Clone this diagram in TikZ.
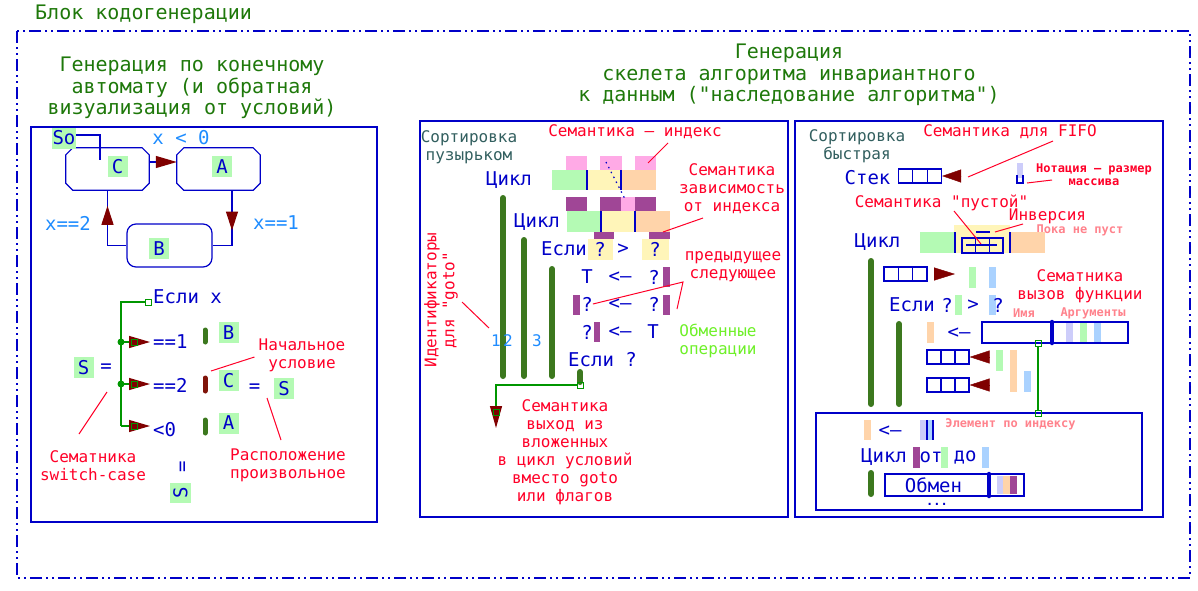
\documentclass[tikz,border=0pt]{standalone}
\usepackage{fontspec}
\setmonofont{DejaVu Sans Mono}
\renewcommand{\familydefault}{\ttdefault}
\usepackage{tikz}
\usetikzlibrary{calc, positioning, arrows.meta, decorations.markings}
\definecolor{lineblue}{RGB}{0,0,200}
\definecolor{titlegreen}{RGB}{30,120,10}
\definecolor{notered}{RGB}{255,0,40}
\definecolor{condblue}{RGB}{30,140,255}
\definecolor{arrred}{RGB}{128,0,0}
\definecolor{wiregreen}{RGB}{0,150,0}
\definecolor{bargreen}{RGB}{60,120,30}
\definecolor{barred}{RGB}{128,20,10}
\definecolor{lgreen}{RGB}{180,250,180}
\definecolor{lyellow}{RGB}{255,245,185}
\definecolor{lorange}{RGB}{255,212,170}
\definecolor{lpink}{RGB}{255,170,230}
\definecolor{purp}{RGB}{160,70,150}
\definecolor{lavend}{RGB}{205,205,250}
\definecolor{lblue}{RGB}{170,210,255}
\definecolor{salmon}{RGB}{255,130,140}
\definecolor{slate}{RGB}{50,95,95}
\definecolor{swapgreen}{RGB}{110,240,40}
\newcommand{\chamf}[1]{\draw[link] ([xshift=7pt]#1.north west) -- ([xshift=-7pt]#1.north east) -- ([yshift=-7pt]#1.north east) -- ([yshift=7pt]#1.south east) -- ([xshift=-7pt]#1.south east) -- ([xshift=7pt]#1.south west) -- ([yshift=7pt]#1.south west) -- ([yshift=-7pt]#1.north west) -- cycle;}
\tikzset{
    blockframe/.style = {draw=lineblue, line width=1.4pt, dash pattern=on 12pt off 4pt on 2pt off 4pt on 2pt off 4pt},
    panel/.style = {draw=lineblue, line width=1.2pt},
    ttl/.style = {text=titlegreen, font=\fontsize{20}{21.5}\selectfont, inner sep=0, align=center},
    txt/.style = {text=lineblue, font=\fontsize{19}{21}\selectfont, inner sep=0},
    cond/.style = {text=condblue, font=\fontsize{19}{21}\selectfont, inner sep=0},
    note/.style = {text=notered, font=\fontsize{16}{18}\selectfont, inner sep=0, align=center},
    tiny/.style = {text=salmon, font=\bfseries\fontsize{12}{13}\selectfont, inner sep=0, align=center},
    sub/.style = {text=slate, font=\fontsize{16}{18}\selectfont, inner sep=0, align=center},
    sym/.style = {fill=lgreen, text=lineblue, font=\fontsize{19}{21}\selectfont, inner sep=0, minimum width=20pt, minimum height=21pt}, % letter of a state on green
    state/.style = {rectangle, minimum width=83pt, minimum height=42pt, inner sep=0}, % outline drawn by \chamf
    stateb/.style = {rectangle, rounded corners=9pt, draw=lineblue, line width=1.2pt, minimum width=85pt, minimum height=43pt, inner sep=0},
    link/.style = {draw=lineblue, line width=1.2pt},
    wire/.style = {draw=wiregreen, line width=1.2pt},
    gpin/.style = {draw=wiregreen, line width=0.8pt, minimum size=6pt, inner sep=0},
    gbar/.style = {line width=6pt, line cap=round, draw=#1}, gbar/.default=bargreen,
    ptr/.style = {draw=notered, line width=1pt},
    divline/.style = {draw=lineblue, line width=1.4pt},
    stk/.style = {draw=lineblue, line width=1.2pt, minimum width=43pt, minimum height=14pt, inner sep=0,
        path picture={\foreach \f in {1,2} \draw[lineblue, line width=1.2pt] ($(path picture bounding box.south west)!\f/3!(path picture bounding box.south east)$) -- ($(path picture bounding box.north west)!\f/3!(path picture bounding box.north east)$);}}, % stack of three cells
    tipR/.style = {-{Triangle[length=21pt, width=12pt, color=arrred]}},
    midarr/.style = {postaction={decorate, decoration={markings, mark=at position #1 with {\arrow{Triangle[length=19pt, width=12pt, color=arrred]}}}}}
}

\begin{document}
\begin{tikzpicture}[x=1pt, y=-1pt]
\useasboundingbox (0,0) rectangle (1198,590);
% whole block
\draw[blockframe] (17,31) rectangle (1190,578);
\node[ttl, anchor=west] (blkT) at (35,14) {Блок кодогенерации};
\draw[panel] (31,127) rectangle (377,522);
\draw[panel] (420,121) rectangle (788,517);
\draw[panel] (795,121) rectangle (1163,517);
\node[ttl] (fsmT) at (192,88) {Генерация по конечному\\автомату (и обратная\\визуализация от условий)};
\node[ttl] (algT) at (789,75) {Генерация\\скелета алгоритма инвариантного\\к данным ("наследование алгоритма")};

% finite state machine
\node[state] (C) at (107.5,169) {};
\node[state] (A) at (218.5,169) {};
\chamf{C}
\chamf{A}
\node[stateb] (B) at (169.5,245.5) {};
\node[sym] (Cl) at (117.5,166.5) {C};
\node[sym] (Al) at (222,166.5) {A};
\node[sym] (Bl) at (159,248.5) {B};
\node[sym, minimum width=24pt] (S0) at (64,138) {So};
\draw[link] ([yshift=3pt]S0.east) -| ([xshift=-7.5pt, yshift=-12pt]C.north);
\draw[link, tipR] ([yshift=7pt]C.east) -- ([yshift=7pt]A.west);
\draw[link, midarr=0.54] ([xshift=13.5pt]A.south) |- (B.east);
\draw[link, midarr=0.79] (B.west) -| (C.south);
\node[cond] (cLt) at (181,138) {x < 0};
\node[cond] (cTwo) at (68,223) {x==2};
\node[cond] (cOne) at (276,223) {x==1};

% switch-case view
\node[txt, anchor=west] (ifx) at (153,297) {Если x};
\node[gpin] (p0) at (148,302) {};
\coordinate (sw) at (121,426);
\draw[wire] (p0.west) -| (sw);
\fill[wiregreen] (121,342) circle (3.5pt) (121,384) circle (3.5pt);
\draw[wire, tipR] (121,342) -- (150,342);
\draw[wire, tipR] (121,384) -- (150,384);
\draw[wire, tipR] (sw) -- (150,426);
\node[gpin] at (134.5,342) {};
\node[gpin] at (134.5,384) {};
\node[gpin] at (134.5,426) {};
\node[txt, anchor=west] (eq1) at (153,342) {==1};
\node[txt, anchor=west] (eq2) at (153,385) {==2};
\node[txt, anchor=west] (lt0) at (153,430) {<0};
\draw[gbar, line width=5pt] (205,330) -- (205,342);
\draw[gbar=barred, line width=5pt] (205,378) -- (205,391);
\draw[gbar, line width=5pt] (205,420) -- (205,433);
\node[sym] (Bs) at (228.5,332.5) {B};
\node[sym] (Cs) at (228.5,380.5) {C};
\node[sym] (As) at (228.5,423) {A};
\node[sym] (Sl) at (83.5,367.5) {S};
\node[txt] at (106,368) {=};
\node[txt] at (254.5,388) {=};
\node[sym] (Sr) at (284,388.5) {S};
\node[txt, rotate=90] at (184,467) {=};
\node[sym, rotate=90] (Sb) at (180.5,492.5) {S};
\node[note] (nStart) at (302,355) {Начальное\\условие};
\draw[ptr] (211,371) -- ([xshift=-4pt, yshift=-2pt]nStart.west);
\node[note] (nSwitch) at (93,465.5) {Сематника\\switch-case};
\draw[ptr] (79,434) -- (107,392);
\node[note] (nPlace) at (288,465.5) {Расположение\\произвольное};
\draw[ptr] (267,398) -- (281,440);

% bubble sort
\node[sub] (bubT) at (469,147) {Сортировка\\пузырьком};
\node[note] (nIdx) at (635,132) {Семантика — индекс};
\foreach \a/\b in {566/587, 600/622, 635/656} \fill[lpink] (\a,156) rectangle (\b,170);
\fill[lgreen] (552,170) rectangle (587,190);
\fill[lyellow] (587,170) rectangle (621,190);
\fill[lorange] (621,170) rectangle (656,190);
\draw[divline] (587,170) -- (587,190) (621,170) -- (621,190);
\node[txt] (loop1) at (509,180) {Цикл};
\fill[purp] (566,197) rectangle (587,211);
\fill[purp] (600,197) rectangle (621,211);
\fill[lpink] (621,197) rectangle (635,211);
\fill[purp] (635,197) rectangle (656,211);
\fill[lgreen] (567,211) rectangle (601,232);
\fill[lyellow] (601,211) rectangle (635,232);
\fill[lorange] (635,211) rectangle (670,232);
\draw[divline] (601,211) -- (601,232) (635,211) -- (635,232);
\draw[lineblue, line width=1.2pt, dash pattern=on 1.5pt off 4pt] (606,162) -- (626,201);
\node[txt] (loop2) at (537,222) {Цикл};
\fill[purp] (594,232) rectangle (614,239);
\fill[purp] (649,232) rectangle (670,239);
\fill[lyellow] (588,239) rectangle (613,260);
\fill[lyellow] (642,239) rectangle (669,260);
\node[txt] (if1) at (564,249) {Если};
\node[txt] at (600,249) {?};
\node[txt] at (623,249) {>};
\node[txt] at (655,249) {?};
\draw[gbar] (503,198) -- (503,376);
\draw[gbar] (524,240) -- (524,376);
\draw[gbar] (552,269) -- (552,376);
\node[txt] at (587,277) {T};
\node[txt] at (620,277) {<—};
\node[txt] at (654,277) {?};
\fill[purp] (663,267) rectangle (670,287);
\fill[purp] (573,295) rectangle (580,315);
\node[txt] (qPrev) at (587,304) {?};
\node[txt] at (620,304) {<—};
\node[txt] at (654,304) {?};
\fill[purp] (663,295) rectangle (670,315);
\node[txt] at (587,332) {?};
\fill[purp] (594,322) rectangle (600,342);
\node[txt] at (620,332) {<—};
\node[txt] at (653,332) {T};
\node[txt] (if2) at (602.5,360) {Если ?};
\draw[gbar] (580,372) -- (580,382);
\node[gpin] (p1) at (580,385) {};
\draw[wire, -{Triangle[length=22pt, width=12pt, color=arrred]}] (p1.west) -| (496,428);
\node[gpin] (p2) at (496,412) {};
\node[cond, font=\fontsize{16}{18}\selectfont] at (496,341) {1};
\node[cond, font=\fontsize{16}{18}\selectfont] at (508,341) {2};
\node[cond, font=\fontsize{16}{18}\selectfont] at (537,341) {3};
\node[note, rotate=90] (nGoto) at (441,300) {Идентификаторы\\для "goto"};
\draw[ptr] (462,302) -- (489,328);
\node[note] (nDep) at (732,189) {Семантика\\зависимость\\от индекса};
\draw[ptr] (663,232) -- (703,218);
\draw[ptr] (648,163) -- (668,143);
\node[note] (nPN) at (733,267) {предыдущее\\следующее};
\draw[ptr] (qPrev.east) -- (683,282) -- (677,309);
\node[note, text=swapgreen] (nSwap) at (718,340.5) {Обменные\\операции};
\node[note] (nExit) at (565,452) {Семантика\\выход из\\вложенных\\в цикл условий\\вместо goto\\или флагов};

% quick sort
\node[sub] (qsT) at (857,146.5) {Сортировка\\быстрая};
\node[note] (nFifo) at (1010,132) {Семантика для FIFO};
\draw[ptr] (968,177) -- (1053,141);
\node[txt] (stackL) at (867.5,178) {Стек};
\node[stk] (stk1) at (920,176) {};
\draw[arrred, -{Triangle[length=19pt, width=13pt]}] (961,176) -- (stk1.east);
\fill[lavend] (1017,163) rectangle (1023,178);
\draw[lineblue, line width=1.2pt] (1017,175) -- (1017,183) -- (1023,183) -- (1023,175);
\draw[ptr] (1027,183) -- (1052,180);
\node[tiny, text=notered] (nNot) at (1094,174.5) {Нотация — размер\\массива};
\node[note] (nEmpty) at (941.5,203) {Семантика "пустой"};
\node[note] (nInv) at (1047.5,216) {Инверсия};
\node[tiny] (nWhile) at (1080,230) {Пока не пуст};
\node[txt] (loop3) at (877.5,242) {Цикл};
\fill[lgreen] (920,232) rectangle (954,253);
\fill[lyellow] (954,225) rectangle (1010,253);
\fill[lorange] (1010,232) rectangle (1045,253);
\draw[divline] (955,232) -- (955,253) (1010,232) -- (1010,253);
\node[stk, minimum width=41pt, minimum height=15pt] (stk2) at (982.5,245.5) {};
\draw[lineblue, line width=1.2pt] (966,245) -- (997,245);
\draw[lineblue, line width=1.2pt] (976,232) -- (990,232);
\draw[ptr] (954,211) -- (981,244);
\draw[ptr] (995,232) -- (1023,224);
\draw[gbar] (871,261) -- (871,404);
\draw[gbar] (899,324) -- (899,404);
\node[stk] (stk3) at (905.5,274) {};
\draw[arrred, -{Triangle[length=21pt, width=13pt]}] (934,274) -- (955,274);
\fill[lgreen] (969,267) rectangle (976,288);
\fill[lblue] (989,267) rectangle (996,288);
\node[note] (nCall) at (1080,286) {Сематника\\вызов функции};
\node[txt] (if3) at (912,305) {Если};
\node[txt] at (947,305) {?};
\fill[lgreen] (955,295) rectangle (962,315);
\node[txt] at (973,305) {>};
\fill[lblue] (989,295) rectangle (996,315);
\node[txt] at (998,305) {?};
\node[tiny] (nName) at (1024,313) {Имя};
\node[tiny] (nArgs) at (1093,313) {Аргументы};
\fill[lorange] (927,322) rectangle (934,343);
\node[txt] at (959,333) {<—};
\node[panel, minimum width=146pt, minimum height=21pt, inner sep=0] (fn) at (1055,332.5) {};
\fill[lavend] (1066,323) rectangle (1073,342);
\fill[lgreen] (1080,323) rectangle (1087,342);
\fill[lblue] (1094,323) rectangle (1101,342);
\draw[lineblue, line width=4.5pt, line cap=round] (1052,322) -- (1052,343);
\node[stk, minimum width=42pt] (stk4) at (948,357) {};
\draw[arrred, -{Triangle[length=20pt, width=13pt]}] (989,357) -- (stk4.east);
\node[stk, minimum width=42pt] (stk5) at (948,385) {};
\draw[arrred, -{Triangle[length=20pt, width=13pt]}] (989,385) -- (stk5.east);
\fill[lgreen] (996,350) rectangle (1003,371);
\fill[lorange] (1010,350) rectangle (1017,392);
\fill[lblue] (1024,371) rectangle (1031,392);
\draw[panel] (816,413) rectangle (1142,510);
\node[gpin] (p3) at (1038,343) {};
\node[gpin] (p4) at (1038,413) {};
\draw[wire] (p3) -- (p4);
\fill[lorange] (864,420) rectangle (871,440);
\node[txt] at (890,431) {<—};
\fill[lavend] (920,420) rectangle (927,440);
\fill[lblue] (927,420) rectangle (934,440);
\draw[lineblue, line width=2.5pt] (927,420) -- (927,440) (933,420) -- (933,440);
\node[tiny] (nElem) at (1010.5,424) {Элемент по индексу};
\node[txt] (loop4) at (884,457) {Цикл};
\fill[purp] (913,447) rectangle (920,468);
\node[txt] at (931,457) {от};
\fill[lgreen] (941,447) rectangle (948,468);
\node[txt] at (965,457) {до};
\fill[lblue] (982,447) rectangle (989,468);
\draw[gbar] (871,473) -- (871,494);
\node[panel, minimum width=139pt, minimum height=22pt, inner sep=0] (swapbox) at (954.5,485) {};
\node[txt] at (933.5,485) {Обмен};
\fill[lavend] (997,476) rectangle (1003,494);
\fill[lorange] (1003,476) rectangle (1010,494);
\fill[purp] (1010,476) rectangle (1017,494);
\draw[lineblue, line width=4.5pt, line cap=round] (989,474) -- (989,496);
\node[txt, font=\bfseries\fontsize{12}{13}\selectfont] at (937,504) {...};
\end{tikzpicture}
\end{document}
